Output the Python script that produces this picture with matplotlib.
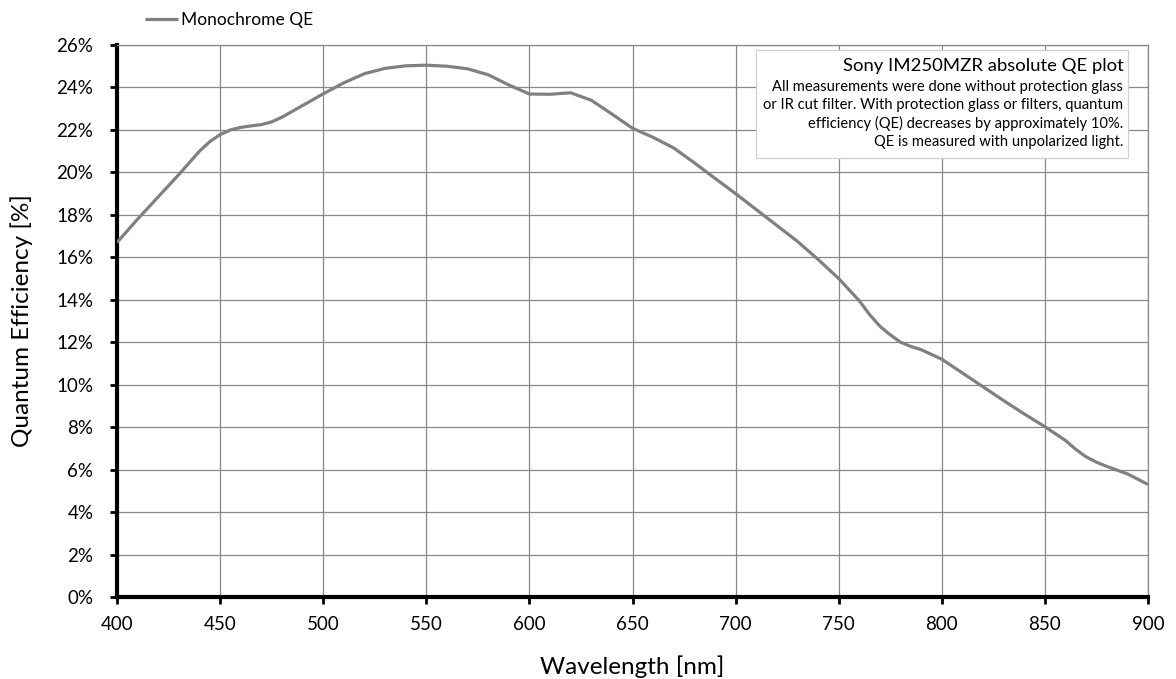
import matplotlib.pyplot as plt
from matplotlib.ticker import FuncFormatter

plt.rcParams['font.family'] = ['Lato', 'DejaVu Sans']

# Wavelength (nm) and QE (%)
wavelength = [400, 410, 420, 430, 440, 445, 450, 455, 460, 465, 470, 475, 480, 490,
              500, 510, 520, 530, 540, 550, 560, 570, 580, 590,
              600, 610, 620, 630, 640, 650, 660, 670, 680, 690,
              700, 710, 720, 730, 740, 750, 760, 765, 770, 775, 780, 785, 790,
              800, 810, 820, 830, 840, 850, 860, 865, 870, 875, 880, 890, 900]
qe = [16.7, 17.8, 18.85, 19.9, 21.0, 21.45, 21.78, 22.0, 22.12, 22.19, 22.25, 22.38, 22.6, 23.15,
      23.7, 24.22, 24.65, 24.9, 25.02, 25.05, 25.0, 24.88, 24.6, 24.12,
      23.69, 23.68, 23.75, 23.4, 22.75, 22.08, 21.65, 21.15, 20.45, 19.72,
      19.0, 18.25, 17.5, 16.75, 15.9, 15.0, 13.95, 13.3, 12.75, 12.35, 12.0, 11.8, 11.65,
      11.2, 10.55, 9.9, 9.25, 8.62, 8.02, 7.37, 6.95, 6.6, 6.35, 6.15, 5.8, 5.3]

x_ticks = list(range(400, 901, 50))
y_ticks = list(range(0, 27, 2))

fig = plt.figure(figsize=(11.76, 6.79), dpi=100)
ax = fig.add_axes([0.0995, 0.1208, 0.8767, 0.8129])

line, = ax.plot(wavelength, qe, color='#808080', lw=2.3, label='Monochrome QE',
                solid_capstyle='butt', solid_joinstyle='round', zorder=3)

ax.set_xlim(400, 900)
ax.set_ylim(0, 26)
ax.set_xticks(x_ticks)
ax.set_yticks(y_ticks)
ax.yaxis.set_major_formatter(FuncFormatter(lambda v, p: f'{v:.0f}%'))
ax.grid(True, color='#888888', lw=0.9)
ax.set_axisbelow(True)

for s in ['top', 'right']:
    ax.spines[s].set_color('#888888')
    ax.spines[s].set_linewidth(0.9)
for s in ['left', 'bottom']:
    ax.spines[s].set_color('black')
    ax.spines[s].set_linewidth(3)

ax.tick_params(axis='both', direction='out', length=5, width=2,
               color='black', labelsize=13.5)
ax.tick_params(axis='x', pad=9)
ax.tick_params(axis='y', pad=12)
ax.set_xlabel('Wavelength [nm]', fontsize=17.5, va='center')
ax.set_ylabel('Quantum Efficiency [%]', fontsize=17.5, va='center')
ax.xaxis.set_label_coords(0.5, -0.127)
ax.yaxis.set_label_coords(-0.092, 0.5)

leg = fig.legend(handles=[line], loc='center left',
                 bbox_to_anchor=(145 / 1176, 1 - 20 / 679),
                 frameon=False, fontsize=12.5, handlelength=1.9,
                 handletextpad=0.15, borderpad=0, borderaxespad=0)

# note box in the top right corner
box = plt.Rectangle((0.620, 0.795), 0.3606, 0.196,
                    transform=ax.transAxes, facecolor='white',
                    edgecolor='#d0d0d0', lw=0.9, zorder=4)
ax.add_patch(box)
ax.text(0.976, 0.962, 'Sony IM250MZR absolute QE plot',
        transform=ax.transAxes, ha='right', va='center', fontsize=13.3, zorder=5)
ax.text(0.976, 0.874,
        'All measurements were done without protection glass\n'
        'or IR cut filter. With protection glass or filters, quantum\n'
        'efficiency (QE) decreases by approximately 10%.\n'
        'QE is measured with unpolarized light.',
        transform=ax.transAxes, ha='right', va='center', fontsize=10.6,
        linespacing=1.37, multialignment='right', zorder=5)

fig.savefig('out.png', dpi=100)
